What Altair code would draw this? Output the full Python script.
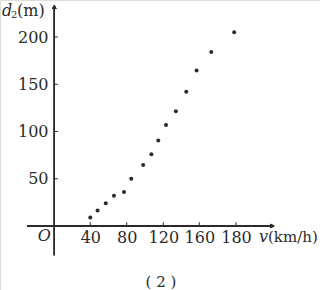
import altair as alt
import pandas as pd

# data
speed = [40, 48, 57, 66, 77, 85, 98, 107, 114.5, 123, 134, 145.5, 157, 166.5, 179]
dist = [9, 16.5, 24, 32, 36, 50, 64.5, 76, 90.5, 107, 121.5, 142, 164.5, 184, 205]
x_ticks = [40, 80, 120, 160, 180]
y_ticks = [50, 100, 150, 200]

df = pd.DataFrame({"v": speed, "d": dist})
xt = pd.DataFrame({"t": x_ticks})
yt = pd.DataFrame({"t": y_ticks})

FONT = "DejaVu Serif"
INK = "#2b2b2b"

xscale = alt.Scale(domain=[-30, 0, 40, 80, 120, 160, 180, 203],
                   range=[27, 54.3, 90.3, 126.7, 163.3, 199.3, 236, 278],
                   nice=False, zero=False)
yscale = alt.Scale(domain=[0, 200], range=[226, 37], nice=False, zero=False)

base = alt.Chart(df)

points = base.mark_circle(size=16, color=INK, opacity=1).encode(
    x=alt.X("v:Q", scale=xscale,
            axis=alt.Axis(values=x_ticks, orient="bottom", offset=-64, domain=False,
                          ticks=False, grid=False, labelFont=FONT, labelFontSize=16,
                          labelColor=INK, labelPadding=3, title=None, labelFlush=False)),
    y=alt.Y("d:Q", scale=yscale,
            axis=alt.Axis(values=y_ticks, orient="left", offset=-54, domain=False,
                          ticks=False, grid=False, labelFont=FONT, labelFontSize=16,
                          labelColor=INK, labelPadding=6, title=None, labelFlush=False)),
)

xaxis_line = alt.Chart(xt).mark_rule(color=INK, strokeWidth=1.3).encode(
    x=alt.datum(-30, scale=xscale), x2=alt.datum(200), y=alt.datum(0, scale=yscale))
yaxis_line = alt.Chart(yt).mark_rule(color=INK, strokeWidth=1.3).encode(
    x=alt.datum(0), y=alt.datum(-31), y2=alt.datum(232))

xtick_marks = alt.Chart(xt).mark_rule(color=INK, strokeWidth=1).encode(
    x="t:Q", y=alt.datum(0), y2=alt.datum(4))
ytick_marks = alt.Chart(yt).mark_rule(color=INK, strokeWidth=1).encode(
    y="t:Q", x=alt.datum(0), x2=alt.datum(4))

arrow_up = alt.Chart(yt).mark_point(shape="triangle-up", filled=True, size=22,
                                    color=INK, opacity=1).encode(
    x=alt.datum(0), y=alt.datum(232))
arrow_right = alt.Chart(xt).mark_point(shape="triangle-right", filled=True, size=22,
                                       color=INK, opacity=1).encode(
    x=alt.datum(200), y=alt.datum(0))

origin = alt.Chart(pd.DataFrame({"s": ["O"]})).mark_text(
    font=FONT, fontSize=16, fontStyle="italic", fontWeight="normal", fill=INK,
    strokeWidth=0, dx=-10, dy=10, baseline="middle", align="center",
).encode(text="s:N", x=alt.datum(0), y=alt.datum(0))


def label(txt, x, y, size=16, italic=False, align="left"):
    return alt.Chart(pd.DataFrame({"s": [txt]})).mark_text(
        font=FONT, fontSize=size, fontWeight="normal",
        fontStyle="italic" if italic else "normal", fill=INK, strokeWidth=0,
        align=align, baseline="middle",
    ).encode(text="s:N", x=alt.value(x), y=alt.value(y))


ylab_d = label("d", 2, 11, italic=True)
ylab_sub = label("2", 11, 15, size=10)
ylab_rest = label("(m)", 17, 11)
xlab_v = label("v", 259, 237, italic=True)
xlab_rest = label("(km/h)", 268, 237, size=15)
caption = label("( 2 )", 161, 282, size=15, align="center")

chart = alt.layer(
    xaxis_line, yaxis_line, xtick_marks, ytick_marks, arrow_up, arrow_right,
    points, origin, ylab_d, ylab_sub, ylab_rest, xlab_v, xlab_rest, caption
).properties(
    width=320, height=290, autosize=alt.AutoSizeParams(type="none"), padding=0
).configure_view(stroke=None).configure(background="white")

chart.save("out.html", embed_options={"renderer": "svg", "actions": False})
